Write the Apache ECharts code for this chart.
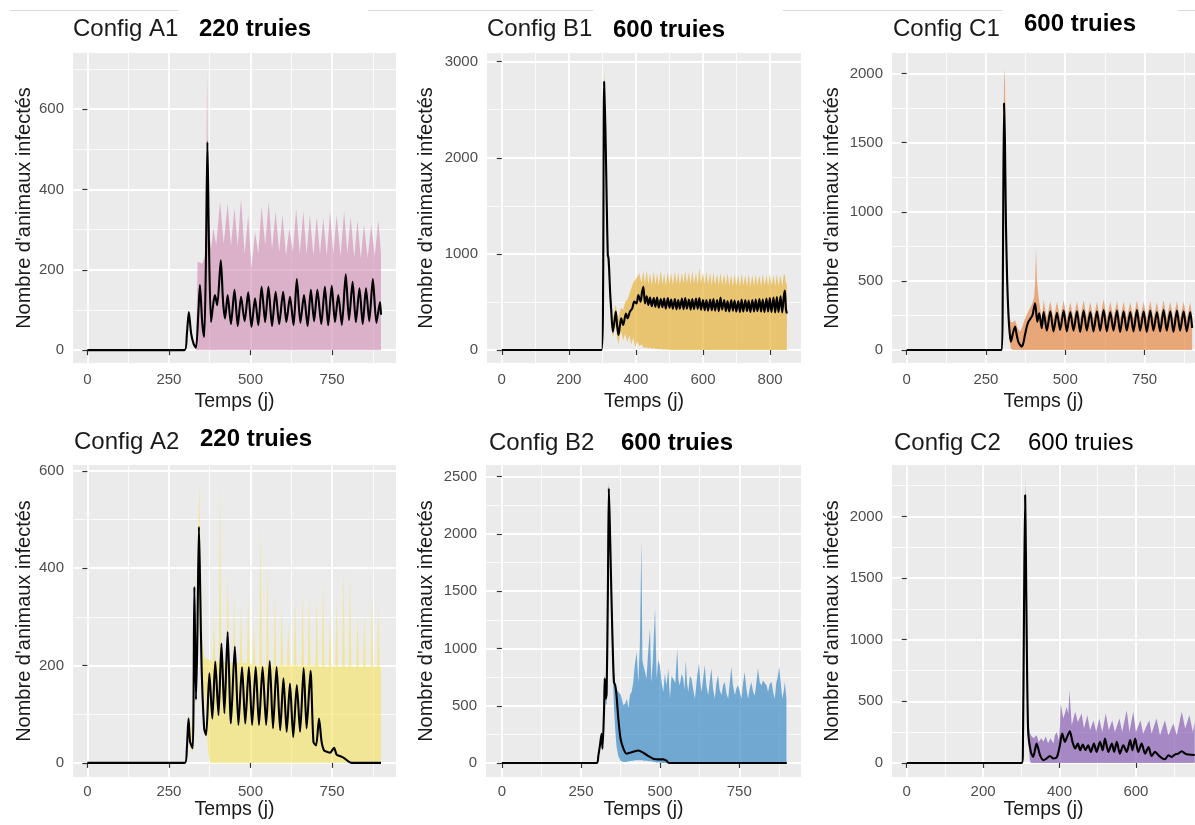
<!DOCTYPE html>
<html>
<head>
<meta charset="utf-8">
<title>Nombre d'animaux infectés - configs A1 à C2</title>
<script src="https://cdn.jsdelivr.net/npm/echarts@6.0.0/dist/echarts.min.js"></script>
<style>
  html, body { margin: 0; padding: 0; background: #fff; }
  #main { width: 1195px; height: 825px; }
</style>
</head>
<body>
<div id="main"></div>
<script type="text/javascript">
// ---- data ----
// mean curves: [day, infected]
var a1Mean = [[0,0],[298,0],[305,40],[311,95],[318,42],[326,15],[333,6],[340,90],[345,162],[352,70],[358,33],[363,200],[368,518],[373,250],[379,70],[385,110],[391,137],[398,112],[409,224],[416,120],[422,79],[430,137],[440,65],[451,150],[461,60],[471,133],[482,72],[493,144],[503,58],[514,129],[524,62],[534,158],[545,70],[555,158],[566,60],[577,145],[588,65],[600,145],[610,70],[621,133],[632,62],[642,177],[653,68],[664,137],[675,60],[685,150],[695,72],[705,150],[717,65],[728,158],[738,62],[749,160],[759,70],[769,137],[780,63],[792,189],[802,75],[813,170],[823,70],[834,154],[844,65],[854,154],[864,72],[875,177],[886,68],[897,120],[900,88]];
// bands: [day, low, high]
var a1Band = [[0,0,0],[333,0,0],[338,0,220],[352,0,215],[363,0,240],[367,0,700],[371,0,300],[380,0,255],[386,0,303],[395,0,262],[407,0,370],[418,0,265],[430,0,366],[440,0,260],[451,0,353],[461,0,258],[471,0,378],[482,0,240],[493,0,336],[503,0,205],[514,0,295],[524,0,240],[534,0,357],[545,0,262],[556,0,370],[566,0,250],[577,0,345],[588,0,245],[598,0,336],[609,0,235],[619,0,303],[630,0,245],[640,0,353],[651,0,240],[662,0,345],[672,0,238],[682,0,336],[693,0,235],[703,0,332],[713,0,240],[723,0,328],[734,0,236],[744,0,345],[754,0,240],[764,0,336],[776,0,235],[787,0,345],[797,0,240],[807,0,332],[818,0,230],[828,0,324],[838,0,228],[848,0,312],[859,0,230],[870,0,312],[881,0,235],[892,0,324],[900,0,240]];

var b1Mean = [[0,0],[298,0],[302,600],[305,2790],[309,2300],[313,1509],[316,988],[318,960],[320,850],[323,600],[326,433],[331,190],[336,300],[340,399],[344,250],[348,156],[352,250],[356,330],[362,260],[370,380],[375,330],[382,399],[389,433],[395,503],[402,485],[407,572],[414,503],[418,600],[422,659],[427,485],[432,560],[437,470],[442,545],[447,455],[453,540],[458,450],[463,545],[468,440],[474,530],[479,445],[484,535],[489,430],[495,540],[500,440],[505,525],[510,430],[516,530],[521,425],[526,520],[531,430],[537,535],[542,425],[547,540],[552,430],[558,525],[563,420],[568,530],[573,425],[579,535],[584,430],[589,540],[594,420],[600,520],[605,415],[610,520],[615,410],[621,525],[626,415],[631,530],[636,410],[642,520],[647,405],[652,545],[657,420],[663,520],[668,405],[673,510],[678,400],[684,520],[689,410],[694,515],[699,400],[705,510],[710,395],[715,525],[720,400],[726,520],[731,405],[736,515],[741,395],[747,520],[752,400],[757,525],[762,405],[768,530],[773,400],[778,525],[783,395],[789,535],[794,400],[799,540],[804,395],[810,545],[815,390],[820,550],[825,395],[831,560],[836,390],[841,565],[844,620],[847,430],[850,380]];
var b1Band = [[0,0,0],[298,0,0],[302,500,700],[305,2700,2930],[309,2100,2500],[313,1350,1650],[316,880,1050],[320,750,950],[323,500,700],[326,330,530],[331,130,300],[336,200,420],[340,250,470],[344,120,380],[348,60,330],[352,150,400],[356,190,440],[362,100,420],[368,170,500],[374,80,520],[380,150,580],[386,60,640],[392,130,700],[398,20,730],[404,90,760],[410,40,800],[416,60,700],[422,30,820],[427,20,690],[432,30,830],[437,15,680],[442,25,800],[447,10,670],[453,20,820],[458,8,680],[463,15,800],[468,5,670],[474,10,830],[479,4,680],[484,8,790],[489,3,670],[495,5,810],[500,2,690],[505,0,800],[510,0,680],[516,0,820],[521,0,690],[526,0,810],[531,0,680],[537,0,800],[542,0,690],[547,0,830],[552,0,690],[558,0,810],[563,0,680],[568,0,820],[573,0,690],[579,0,800],[584,0,680],[589,0,850],[594,0,690],[600,0,810],[605,0,680],[610,0,820],[615,0,680],[621,0,800],[626,0,670],[631,0,810],[636,0,680],[642,0,790],[647,0,670],[652,0,800],[657,0,680],[663,0,790],[668,0,670],[673,0,800],[678,0,670],[684,0,780],[689,0,660],[694,0,790],[699,0,670],[705,0,780],[710,0,660],[715,0,790],[720,0,670],[726,0,780],[731,0,660],[736,0,790],[741,0,660],[747,0,780],[752,0,660],[757,0,790],[762,0,670],[768,0,780],[773,0,660],[778,0,790],[783,0,670],[789,0,780],[794,0,660],[799,0,790],[804,0,670],[810,0,780],[815,0,660],[820,0,790],[825,0,670],[831,0,780],[836,0,660],[841,0,790],[844,0,780],[847,0,700],[850,0,680]];

var c1Mean = [[0,0],[300,0],[303,400],[307,1785],[310,1500],[313,929],[317,500],[321,253],[325,120],[329,60],[335,120],[342,169],[347,110],[352,60],[358,35],[363,24],[368,50],[373,108],[379,170],[384,205],[391,229],[397,253],[401,300],[405,338],[412,205],[418,265],[426,157],[432,275],[442,140],[453,280],[463,135],[474,270],[484,145],[495,285],[505,135],[516,275],[526,140],[537,280],[547,130],[558,285],[568,140],[579,275],[589,135],[600,280],[610,140],[621,290],[631,135],[642,275],[652,140],[663,285],[673,130],[684,280],[694,140],[705,275],[715,135],[726,290],[736,140],[747,280],[757,130],[768,285],[778,140],[789,275],[799,135],[810,290],[820,140],[831,280],[841,130],[852,285],[862,140],[873,280],[883,135],[894,275],[900,160]];
var c1Band = [[0,0,0],[300,0,0],[303,300,500],[307,1650,1950],[309,1500,2040],[311,1300,1800],[313,800,1100],[317,400,650],[321,180,340],[325,60,230],[329,10,200],[335,0,200],[342,0,215],[350,0,160],[358,0,130],[365,0,170],[372,0,220],[380,0,260],[388,0,300],[395,0,330],[402,0,380],[405,0,480],[408,0,736],[411,0,500],[416,0,380],[421,0,300],[426,0,230],[432,0,360],[442,0,230],[453,0,355],[463,0,225],[474,0,350],[484,0,230],[495,0,360],[505,0,220],[516,0,345],[526,0,225],[537,0,355],[547,0,225],[558,0,360],[568,0,230],[579,0,345],[589,0,225],[600,0,350],[610,0,230],[621,0,365],[631,0,225],[642,0,350],[652,0,230],[663,0,355],[673,0,225],[684,0,350],[694,0,230],[705,0,345],[715,0,225],[726,0,360],[736,0,230],[747,0,350],[757,0,225],[768,0,355],[778,0,230],[789,0,345],[799,0,225],[810,0,360],[820,0,230],[831,0,350],[841,0,225],[852,0,355],[862,0,230],[873,0,350],[883,0,225],[894,0,345],[900,0,240]];

var a2Mean = [[0,0],[299,0],[305,30],[310,91],[315,43],[323,30],[328,362],[333,130],[337,250],[342,485],[346,350],[350,201],[358,71],[364,57],[374,184],[383,91],[392,208],[402,98],[411,245],[420,102],[430,269],[440,81],[452,239],[463,78],[474,197],[484,81],[495,197],[505,78],[516,197],[526,78],[537,197],[548,78],[559,209],[569,71],[580,197],[591,67],[601,174],[611,64],[621,163],[631,53],[642,160],[652,64],[663,195],[672,71],[684,189],[693,43],[701,36],[710,91],[718,43],[725,26],[734,23],[744,21],[756,31],[764,17],[774,14],[787,10],[800,3],[810,0],[900,0]];
var a2Band = [[0,0,0],[299,0,0],[305,20,40],[310,80,110],[315,30,60],[323,20,100],[328,330,390],[333,110,200],[338,200,350],[343,450,578],[347,300,420],[352,150,260],[358,150,215],[362,120,215],[366,70,215],[370,25,212],[374,5,212],[378,0,210],[384,0,205],[388,0,300],[392,0,210],[403,0,205],[407,0,578],[411,0,210],[426,0,205],[430,0,400],[434,0,205],[446,0,205],[450,0,345],[454,0,205],[467,0,205],[471,0,324],[475,0,205],[489,0,205],[493,0,338],[497,0,205],[507,0,200],[511,0,290],[515,0,200],[527,0,200],[531,0,489],[535,0,200],[548,0,200],[552,0,407],[556,0,200],[571,0,200],[575,0,345],[579,0,200],[592,0,200],[596,0,324],[600,0,200],[612,0,200],[616,0,290],[620,0,200],[633,0,200],[637,0,338],[641,0,200],[656,0,200],[660,0,352],[664,0,200],[676,0,200],[680,0,345],[684,0,200],[699,0,200],[703,0,345],[707,0,200],[719,0,198],[723,0,372],[727,0,198],[740,0,198],[744,0,311],[748,0,198],[760,0,198],[764,0,338],[768,0,198],[781,0,198],[785,0,400],[789,0,198],[801,0,198],[805,0,386],[809,0,198],[824,0,198],[828,0,304],[832,0,198],[845,0,198],[849,0,311],[853,0,198],[868,0,198],[872,0,345],[876,0,198],[888,0,198],[892,0,324],[896,0,198],[900,0,195]];

var b2Mean = [[0,0],[299,0],[305,67],[310,154],[315,256],[318,125],[323,475],[325,737],[328,562],[331,600],[335,1500],[338,2398],[341,2100],[344,1728],[349,1145],[354,708],[358,680],[362,600],[368,388],[375,213],[384,125],[394,81],[405,90],[420,102],[431,110],[447,90],[463,61],[478,38],[494,32],[510,32],[520,20],[526,3],[535,0],[900,0]];
var b2Band = [[0,0,0],[299,0,0],[305,50,80],[310,130,170],[315,220,280],[318,100,150],[323,420,520],[325,680,780],[328,500,620],[331,520,680],[335,1400,1600],[338,2300,2450],[341,1950,2200],[344,1500,1800],[349,900,1250],[354,500,800],[358,300,700],[362,150,650],[368,60,620],[375,20,600],[384,10,504],[390,10,520],[395,10,562],[400,15,480],[405,15,600],[410,20,620],[415,20,700],[420,25,854],[426,25,970],[431,25,700],[436,25,1028],[441,25,1946],[444,25,900],[447,20,854],[452,20,800],[457,20,737],[463,15,1000],[468,15,1174],[472,15,700],[477,10,900],[484,10,1349],[489,5,737],[494,5,900],[499,5,854],[505,0,700],[510,0,620],[515,0,780],[520,0,679],[526,0,820],[531,0,562],[536,0,760],[541,0,737],[548,0,700],[554,0,999],[558,0,720],[562,0,679],[568,0,780],[573,0,737],[577,0,640],[581,0,897],[585,0,700],[589,0,620],[594,0,760],[599,0,737],[604,0,650],[610,0,562],[617,0,760],[623,0,868],[627,0,700],[631,0,620],[636,0,740],[641,0,854],[646,0,680],[652,0,592],[657,0,720],[662,0,825],[667,0,650],[673,0,562],[678,0,700],[683,0,766],[688,0,640],[694,0,592],[699,0,680],[704,0,708],[710,0,600],[715,0,562],[720,0,700],[725,0,839],[730,0,680],[736,0,592],[741,0,650],[746,0,679],[752,0,620],[757,0,562],[762,0,700],[767,0,795],[773,0,640],[778,0,562],[783,0,650],[788,0,708],[794,0,620],[799,0,590],[804,0,700],[809,0,825],[815,0,700],[820,0,679],[825,0,720],[830,0,700],[836,0,680],[841,0,620],[846,0,690],[852,0,708],[857,0,620],[862,0,562],[867,0,700],[872,0,760],[876,0,839],[881,0,700],[886,0,562],[890,0,620],[894,0,708],[897,0,620],[899,0,562]];

var c2Mean = [[0,0],[301,0],[304,63],[307,1200],[310,2175],[312,1700],[314,1065],[318,252],[325,90],[331,49],[340,157],[349,63],[358,22],[366,36],[375,57],[384,36],[393,46],[401,144],[407,239],[414,171],[420,212],[427,257],[434,171],[441,117],[448,157],[454,103],[461,149],[468,103],[475,144],[482,90],[490,157],[497,90],[506,171],[513,103],[519,198],[528,90],[537,157],[543,90],[550,171],[558,76],[567,144],[576,90],[585,185],[591,103],[598,198],[606,90],[615,157],[624,76],[633,130],[641,57],[650,90],[659,63],[667,41],[676,30],[685,63],[694,49],[702,68],[711,76],[720,95],[729,76],[737,68],[754,65]];
var c2Band = [[0,0,0],[301,0,0],[304,40,80],[307,1100,1400],[310,2050,2297],[312,1550,1900],[314,950,1200],[318,200,320],[322,30,250],[325,0,225],[332,0,200],[340,0,225],[346,0,170],[352,0,200],[358,0,175],[364,0,215],[370,0,160],[377,0,200],[384,0,157],[388,0,225],[393,0,252],[398,0,180],[401,0,300],[403,0,482],[410,0,360],[419,0,455],[423,0,400],[426,0,591],[432,0,306],[441,0,415],[448,0,333],[458,0,401],[464,0,279],[473,0,388],[480,0,266],[489,0,347],[496,0,252],[504,0,360],[512,0,252],[521,0,401],[529,0,266],[538,0,347],[545,0,252],[557,0,360],[564,0,252],[576,0,428],[583,0,252],[593,0,415],[600,0,252],[612,0,347],[619,0,239],[635,0,347],[641,0,239],[654,0,360],[663,0,225],[676,0,347],[685,0,225],[698,0,320],[707,0,225],[720,0,415],[729,0,279],[740,0,388],[749,0,252],[754,0,330]];

// tick values (major = labelled, minor = thin grid lines)
var xTicks250 = [0, 250, 500, 750], xMinor250 = [125, 375, 625, 875];
var xTicks200 = [0, 200, 400, 600, 800], xMinor200 = [100, 300, 500, 700];
var yTicksA = [0, 200, 400, 600], yMinorA = [100, 300, 500, 700];
var yTicksB1 = [0, 1000, 2000, 3000], yMinorB1 = [500, 1500, 2500];
var yTicks500 = [0, 500, 1000, 1500, 2000, 2500], yMinor500 = [250, 750, 1250, 1750, 2250];

var titleA = ['Config A1', 'Config B1', 'Config C1', 'Config A2', 'Config B2', 'Config C2'];
var titleB = ['220 truies', '600 truies', '600 truies', '220 truies', '600 truies', '600 truies'];

// ---- layout ----
var FONT = "'Liberation Sans', Arial, Helvetica, sans-serif";
var panels = [
  {box:[73, 53, 323, 310],  xr:[-44, 946], yr:[-32, 740],  xt:xTicks250, xm:xMinor250, yt:yTicksA,   ym:yMinorA,   mean:a1Mean, band:a1Band, fill:'rgba(205,130,175,0.55)', yGap:39, xGap:29, lblM:9, t1:[73,17],   t2:[199,17], bold:true},
  {box:[487, 53, 314, 310], xr:[-44, 892], yr:[-135, 3090], xt:xTicks200, xm:xMinor200, yt:yTicksB1, ym:yMinorB1, mean:b1Mean, band:b1Band, fill:'rgba(232,180,60,0.7)',   yGap:51, xGap:29, lblM:9, t1:[487,17],  t2:[613,18], bold:true},
  {box:[892, 53, 303, 310], xr:[-46, 909], yr:[-94, 2149],  xt:xTicks250, xm:xMinor250, yt:yTicks500, ym:yMinor500, mean:c1Mean, band:c1Band, fill:'rgba(230,130,60,0.65)', yGap:50, xGap:29, lblM:9, t1:[893,17],  t2:[1024,12], bold:true},
  {box:[73, 465, 323, 312], xr:[-44, 946], yr:[-29, 612],   xt:xTicks250, xm:xMinor250, yt:yTicksA,   ym:yMinorA,   mean:a2Mean, band:a2Band, fill:'rgba(245,225,80,0.55)', yGap:39, xGap:20, lblM:7, t1:[74,430],  t2:[200,427], bold:true},
  {box:[486, 465, 315, 312], xr:[-50, 945], yr:[-122, 2602], xt:xTicks250, xm:xMinor250, yt:yTicks500, ym:yMinor500, mean:b2Mean, band:b2Band, fill:'rgba(60,140,200,0.7)', yGap:50, xGap:20, lblM:7, t1:[489,431], t2:[621,431], bold:true},
  {box:[892, 465, 303, 312], xr:[-38.5, 754.7], yr:[-114, 2418], xt:xTicks200, xm:xMinor200, yt:yTicks500, ym:yMinor500, mean:c2Mean, band:c2Band, fill:'rgba(120,70,170,0.6)', yGap:50, xGap:20, lblM:7, t1:[894,431], t2:[1028,431], bold:false}
];

function plain(v) { return String(v); }

function majorAxis(gi, range, ticks, pos, name, gap, margin, nameSize) {
  return {
    type: 'value', gridIndex: gi, position: pos, min: range[0], max: range[1],
    name: name, nameLocation: 'middle', nameGap: gap, nameRotate: pos === 'left' ? 90 : 0,
    nameTextStyle: {fontFamily: FONT, fontSize: nameSize, color: '#1A1A1A'},
    axisLine: {show: false},
    axisTick: {show: true, customValues: ticks, length: 5, lineStyle: {color: '#333333', width: 1.2}},
    axisLabel: {show: true, customValues: ticks, formatter: plain, margin: margin, color: '#4D4D4D', fontSize: 15, fontFamily: FONT},
    splitLine: {show: true, lineStyle: {color: '#FFFFFF', width: 1.8}}
  };
}
function minorAxis(gi, range, ticks, pos) {
  return {
    type: 'value', gridIndex: gi, position: pos, min: range[0], max: range[1],
    axisLine: {show: false},
    axisTick: {show: false, customValues: ticks},
    axisLabel: {show: false, customValues: ticks},
    splitLine: {show: true, lineStyle: {color: '#FFFFFF', width: 0.8}}
  };
}

// ribbon between low and high, placed with the axis scales
function ribbon(band, fill) {
  return function (params, api) {
    var pts = [];
    for (var k = 0; k < band.length; k++) pts.push(api.coord([band[k][0], band[k][2]]));
    for (var j = band.length - 1; j >= 0; j--) pts.push(api.coord([band[j][0], band[j][1]]));
    return {type: 'polygon', shape: {points: pts}, style: {fill: fill}};
  };
}

var grids = [], xAxes = [], yAxes = [], series = [], titles = [];
panels.forEach(function (p, i) {
  grids.push({left: p.box[0], top: p.box[1], width: p.box[2], height: p.box[3],
              show: true, backgroundColor: '#EBEBEB', borderWidth: 0});
  xAxes.push(majorAxis(i, p.xr, p.xt, 'bottom', 'Temps (j)', p.xGap, p.lblM, 19.5));
  xAxes.push(minorAxis(i, p.xr, p.xm, 'top'));
  yAxes.push(majorAxis(i, p.yr, p.yt, 'left', "Nombre d'animaux infectés", p.yGap, 9, 20));
  yAxes.push(minorAxis(i, p.yr, p.ym, 'right'));

  var xi = 2 * i, yi = 2 * i;
  series.push({type: 'custom', coordinateSystem: 'cartesian2d', xAxisIndex: xi, yAxisIndex: yi,
               data: [[0, 0]], renderItem: ribbon(p.band, p.fill), silent: true, z: 2});
  series.push({type: 'line', xAxisIndex: xi, yAxisIndex: yi, data: p.mean,
               symbol: 'none', smooth: 0.25, lineStyle: {color: '#000000', width: 2.1}, silent: true, z: 4});

  titles.push({text: titleA[i], left: p.t1[0], top: p.t1[1], padding: 0,
               textStyle: {fontFamily: FONT, fontSize: 24, fontWeight: 'normal', color: '#1A1A1A'}});
  titles.push({text: titleB[i], left: p.t2[0], top: p.t2[1], padding: 0,
               textStyle: {fontFamily: FONT, fontSize: 24, fontWeight: p.bold ? 'bold' : 'normal', color: '#000000'}});
});

// faint separators left over at the top of the composite picture
var topRules = [[10, 178], [368, 593], [783, 1002], [1178, 1195]];
var graphics = topRules.map(function (s) {
  return {type: 'line', shape: {x1: s[0], y1: 10.5, x2: s[1], y2: 10.5}, style: {stroke: '#DADADA', lineWidth: 1}, silent: true};
});

var myChart = echarts.init(document.getElementById('main'), null, {renderer: 'canvas'});
var option = {
  animation: false,
  backgroundColor: '#FFFFFF',
  title: titles,
  grid: grids,
  xAxis: xAxes,
  yAxis: yAxes,
  graphic: graphics,
  series: series
};
myChart.setOption(option);
</script>
</body>
</html>
